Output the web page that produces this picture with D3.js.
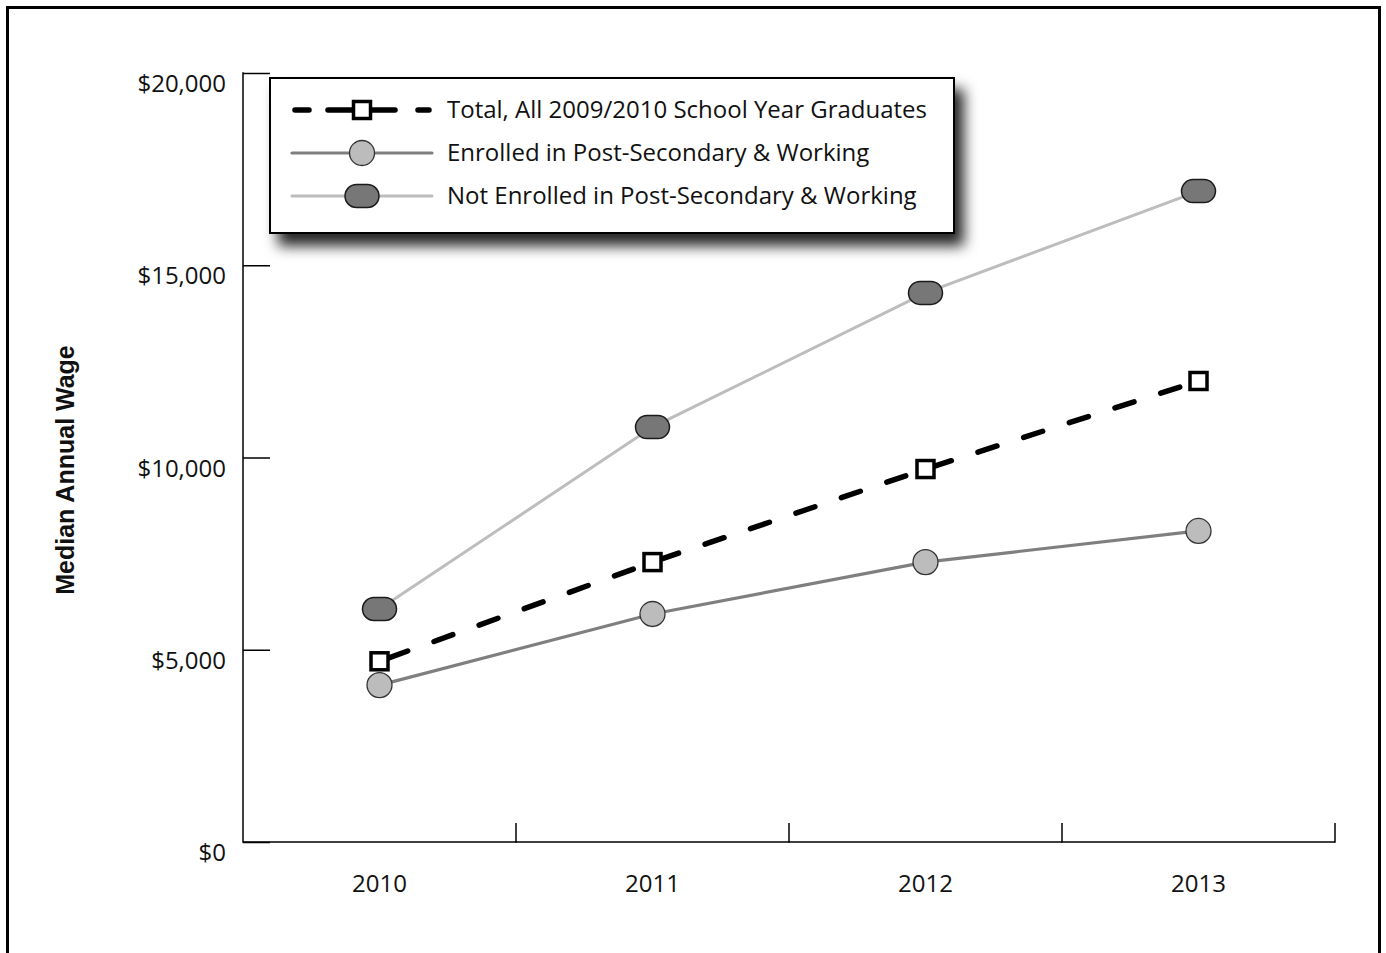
<!DOCTYPE html>
<html>
<head>
<meta charset="utf-8">
<script src="https://cdn.jsdelivr.net/npm/d3@7"></script>
<style>
  html, body { margin: 0; padding: 0; background: #fff; }
  svg { display: block; }
  text { font-family: "Open Sans", "Noto Sans", sans-serif; fill: #111; }
  text.ytitle { font-family: "Liberation Sans", Arial, sans-serif; font-weight: bold; }
</style>
</head>
<body>
<svg id="chart" width="1386" height="953"></svg>
<script>
const years = ["2010", "2011", "2012", "2013"];
const totalValues = [4700, 7280, 9700, 11990];
const enrolledValues = [4080, 5930, 7280, 8090];
const notEnrolledValues = [6060, 10790, 14280, 16930];
const yTicks = [0, 5000, 10000, 15000, 20000];
const seriesNames = [
  "Total, All 2009/2010 School Year Graduates",
  "Enrolled in Post-Secondary & Working",
  "Not Enrolled in Post-Secondary & Working"
];
const yTitle = "Median Annual Wage";

const svg = d3.select("#chart");

// drop shadow filter
const defs = svg.append("defs");
const f = defs.append("filter").attr("id", "shadow")
  .attr("x", "-10%").attr("y", "-20%").attr("width", "130%").attr("height", "170%");
f.append("feDropShadow").attr("dx", 9).attr("dy", 12).attr("stdDeviation", 7)
  .attr("flood-color", "#000").attr("flood-opacity", 0.85);

// outer frame
svg.append("rect").attr("x", 7.5).attr("y", 7.5).attr("width", 1372).attr("height", 980)
  .attr("fill", "none").attr("stroke", "#000").attr("stroke-width", 3);

const x = d3.scaleBand().domain(years).range([243, 1335]);
const y = d3.scaleLinear().domain([0, 20000]).range([842, 73]);
const xc = d => x(d) + x.bandwidth() / 2;

// Y axis
const yAxis = d3.axisRight(y).tickValues(yTicks).tickSize(27).tickFormat("");
const gy = svg.append("g").attr("transform", "translate(243,0)").call(yAxis);
gy.select(".domain").remove();
gy.selectAll(".tick line").attr("stroke", "#000").attr("stroke-width", 1.5);
svg.append("line").attr("x1", 243).attr("x2", 243).attr("y1", y(20000) - 0.75).attr("y2", y(0) + 0.75)
  .attr("stroke", "#000").attr("stroke-width", 1.5);
svg.append("g").selectAll("text").data(yTicks).join("text")
  .attr("x", 226).attr("y", d => y(d) + 19)
  .attr("text-anchor", "end").attr("font-size", 24)
  .text(d => "$" + d3.format(",")(d));

// X axis
svg.append("line").attr("x1", 243).attr("x2", 1335).attr("y1", 842).attr("y2", 842)
  .attr("stroke", "#000").attr("stroke-width", 1.5);
const boundaries = years.map(d => x(d) + x.bandwidth());
svg.append("g").selectAll("line").data(boundaries).join("line")
  .attr("x1", d => d).attr("x2", d => d).attr("y1", 842.75).attr("y2", 823)
  .attr("stroke", "#000").attr("stroke-width", 1.5);
svg.append("g").selectAll("text").data(years).join("text")
  .attr("x", d => xc(d)).attr("y", 892)
  .attr("text-anchor", "middle").attr("font-size", 24)
  .text(d => d);

// Y title
svg.append("text").attr("class", "ytitle")
  .attr("transform", "translate(74,470) rotate(-90)")
  .attr("text-anchor", "middle")
  .attr("font-size", 25)
  .text(yTitle);

const line = d3.line().x(d => xc(d.year)).y(d => y(d.v));
const toPts = vals => years.map((yr, i) => ({ year: yr, v: vals[i] }));

// lines
svg.append("path").datum(toPts(notEnrolledValues)).attr("d", line)
  .attr("fill", "none").attr("stroke", "#bdbdbd").attr("stroke-width", 3);
svg.append("path").datum(toPts(enrolledValues)).attr("d", line)
  .attr("fill", "none").attr("stroke", "#7f7f7f").attr("stroke-width", 3.2);
svg.append("path").datum(toPts(totalValues)).attr("d", line)
  .attr("fill", "none").attr("stroke", "#000").attr("stroke-width", 5.5)
  .attr("stroke-dasharray", "20,28").attr("stroke-dashoffset", -10)
  .attr("stroke-linecap", "round");

// markers
function pill(g, cx, cy) {
  g.append("rect").attr("x", cx - 17).attr("y", cy - 11.5).attr("width", 34).attr("height", 23)
    .attr("rx", 11.5).attr("ry", 11.5)
    .attr("fill", "#777").attr("stroke", "#1a1a1a").attr("stroke-width", 1.5);
}
function circ(g, cx, cy) {
  g.append("circle").attr("cx", cx).attr("cy", cy).attr("r", 12.5)
    .attr("fill", "#bcbcbc").attr("stroke", "#333").attr("stroke-width", 1.3);
}
function sq(g, cx, cy) {
  g.append("rect").attr("x", cx - 8.5).attr("y", cy - 8.5).attr("width", 17).attr("height", 17)
    .attr("fill", "#fff").attr("stroke", "#000").attr("stroke-width", 3.5);
}
const mk = svg.append("g");
toPts(notEnrolledValues).forEach(d => pill(mk, xc(d.year), y(d.v)));
toPts(enrolledValues).forEach(d => circ(mk, xc(d.year), y(d.v)));
toPts(totalValues).forEach(d => sq(mk, xc(d.year), y(d.v)));

// legend
const lg = svg.append("g");
lg.append("rect").attr("x", 270).attr("y", 78).attr("width", 684).attr("height", 155)
  .attr("fill", "#fff").attr("stroke", "#000").attr("stroke-width", 2)
  .attr("filter", "url(#shadow)");
const rowsY = [110, 153, 196];
lg.append("path")
  .attr("d", `M295,${rowsY[0]}H309M328,${rowsY[0]}H395M418,${rowsY[0]}H429`)
  .attr("stroke", "#000").attr("stroke-width", 5.5).attr("stroke-linecap", "round").attr("fill", "none");
sq(lg, 362, rowsY[0]);
lg.append("line").attr("x1", 292).attr("x2", 432).attr("y1", rowsY[1]).attr("y2", rowsY[1])
  .attr("stroke", "#7f7f7f").attr("stroke-width", 3.2).attr("stroke-linecap", "round");
circ(lg, 362, rowsY[1]);
lg.append("line").attr("x1", 292).attr("x2", 432).attr("y1", rowsY[2]).attr("y2", rowsY[2])
  .attr("stroke", "#bdbdbd").attr("stroke-width", 3).attr("stroke-linecap", "round");
pill(lg, 362, rowsY[2]);
lg.selectAll("text.lt").data(seriesNames).join("text").attr("class", "lt")
  .attr("x", 447).attr("y", (d, i) => rowsY[i] + 8)
  .attr("font-size", 24)
  .text(d => d);
</script>
</body>
</html>
